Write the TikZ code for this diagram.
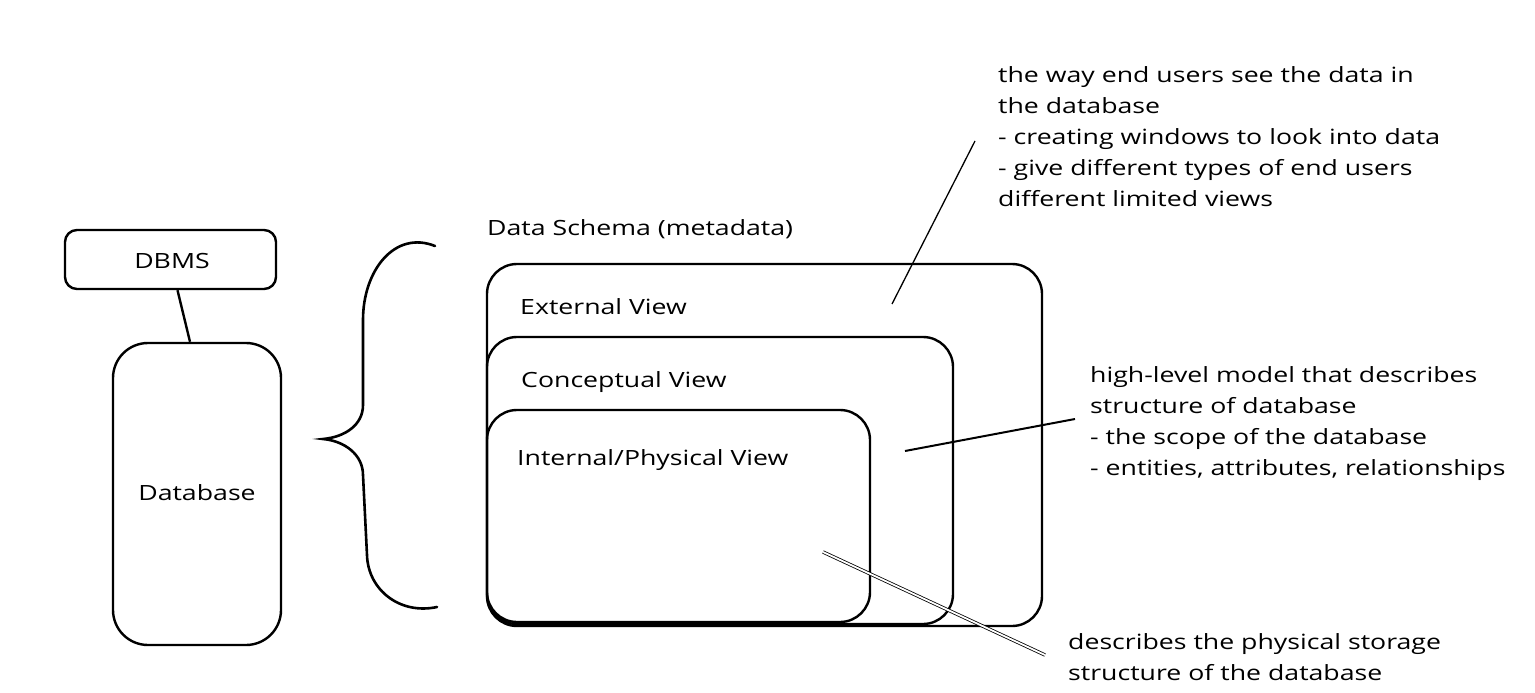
\documentclass[tikz,border=0pt]{standalone}
\usepackage{fontspec}
\setmainfont{Open Sans}[FakeStretch=1.27]
\usetikzlibrary{positioning,calc}

\begin{document}
\begin{tikzpicture}[x=1pt, y=-1pt,
    box/.style={rectangle, draw, line width=2.4pt, rounded corners=#1, inner sep=0pt},
    box/.default=30pt,
    lbl/.style={font=\fontsize{21}{24}\selectfont, inner sep=0pt},
    note/.style={font=\fontsize{21}{31}\selectfont, inner sep=0pt, align=left, anchor=north west},
    pointer/.style={line width=1.3pt},
    twin/.style={double, line width=0.8pt, double distance=1.8pt}
]
    \useasboundingbox (0,0) rectangle (1535,693);

    % DBMS and database
    \node[box=12pt, minimum width=211pt, minimum height=59pt] (dbms) at (170.5,259.5) {};
    \node[lbl, anchor=base] (dbmstext) at (172,268) {DBMS};
    \node[box=35pt, minimum width=168pt, minimum height=302pt] (database) at (197,494) {};
    \node[lbl, anchor=base] (dbtext) at (197,500) {Database};
    \draw[line width=2.4pt] ([xshift=7pt]dbms.south) -- ([xshift=-7pt]database.north);

    % Brace
    \draw[line width=2.6pt, line cap=round]
        (435,246) .. controls (395,230) and (363,270) .. (363,320) -- (363,405)
        .. controls (363,425) and (345,437) .. (323,439)
        .. controls (345,441) and (363,455) .. (363,475) -- (367,555)
        .. controls (368,590) and (400,615) .. (437,607);

    % Schema levels
    \node[lbl, anchor=base west] (schema) at (487,235) {Data Schema (metadata)};
    \node[box, minimum width=555pt, minimum height=362pt] (external) at (764.5,445) {};
    \node[box, minimum width=466pt, minimum height=287pt] (conceptual) at (720,480.5) {};
    \node[box, minimum width=383pt, minimum height=212pt] (internal) at (678.5,516) {};
    \node[lbl, anchor=base west] (exttext) at (520,314) {External View};
    \node[lbl, anchor=base west] (conctext) at (521,387) {Conceptual View};
    \node[lbl, anchor=base west] (inttext) at (517,465) {Internal/Physical View};

    % Notes
    \node[note] (extnote) at (998,66) {the way end users see the data in\\the database\\- creating windows to look into data\\- give different types of end users\\different limited views};
    \node[note] (concnote) at (1090,366) {high-level model that describes\\structure of database\\- the scope of the database\\- entities, attributes, relationships};
    \node[note] (intnote) at (1068,633) {describes the physical storage\\structure of the database};

    % Pointers
    \coordinate (extpt) at (892,304);
    \coordinate (extend) at (975,141);
    \coordinate (concpt) at (905,451);
    \coordinate (concend) at (1075,419);
    \coordinate (intpt) at (823,552);
    \coordinate (intend) at (1045,655);
    \draw[pointer] (extpt) -- (extend);
    \draw[pointer, line width=2pt] (concpt) -- (concend);
    \draw[twin] (intpt) -- (intend);
\end{tikzpicture}
\end{document}
